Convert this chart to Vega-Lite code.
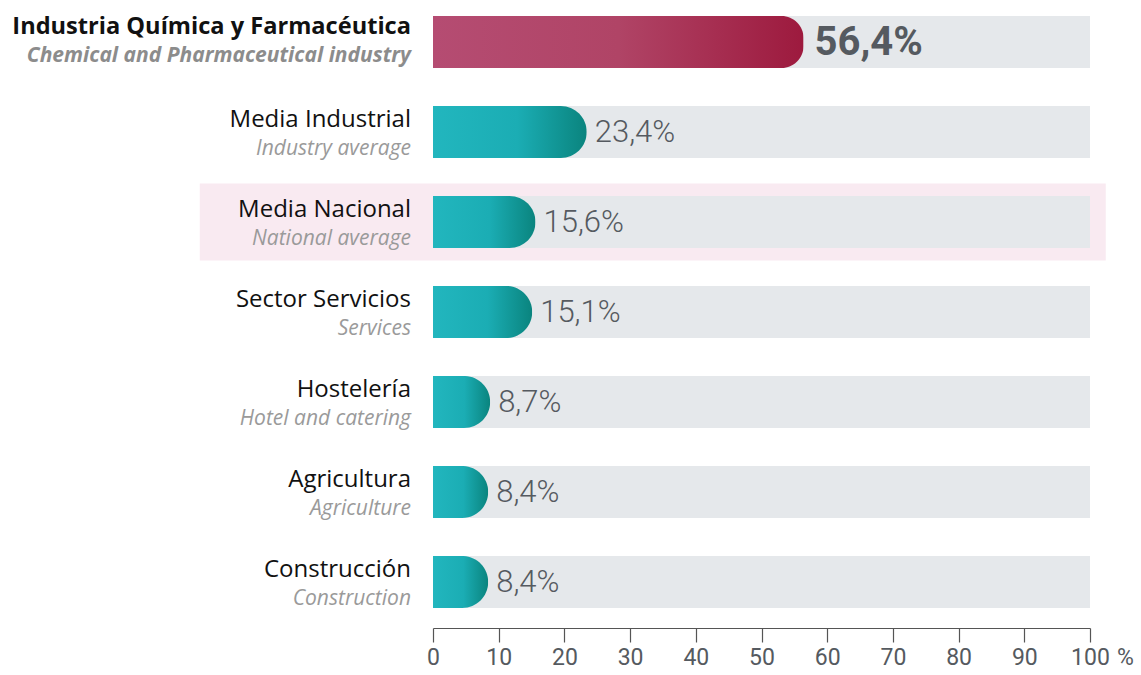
{
  "$schema": "https://vega.github.io/schema/vega-lite/v6.json",
  "width": 657,
  "height": 624,
  "autosize": "none",
  "padding": {"left": 433, "top": 0, "right": 51, "bottom": 51},
  "background": "white",
  "config": {"view": {"stroke": null}},
  "data": {"values": [
    {"es": "Industria Química y Farmacéutica", "en": "Chemical and Pharmaceutical industry", "value": 56.4, "group": "main"},
    {"es": "Media Industrial", "en": "Industry average", "value": 23.4, "group": "other"},
    {"es": "Media Nacional", "en": "National average", "value": 15.6, "group": "national"},
    {"es": "Sector Servicios", "en": "Services", "value": 15.1, "group": "other"},
    {"es": "Hostelería", "en": "Hotel and catering", "value": 8.7, "group": "other"},
    {"es": "Agricultura", "en": "Agriculture", "value": 8.4, "group": "other"},
    {"es": "Construcción", "en": "Construction", "value": 8.4, "group": "other"}
  ]},
  "transform": [
    {"calculate": "replace(format(datum.value, '.1f'), '.', ',') + '%'", "as": "label"},
    {"calculate": "-35.5", "as": "hl_start"},
    {"calculate": "102.4", "as": "hl_end"},
    {"calculate": "100", "as": "full"}
  ],
  "encoding": {
    "y": {
      "field": "es", "type": "nominal", "sort": null,
      "scale": {
        "domain": ["Industria Química y Farmacéutica", "Media Industrial", "Media Nacional", "Sector Servicios", "Hostelería", "Agricultura", "Construcción"],
        "paddingInner": 0.422, "paddingOuter": 0.178
      },
      "axis": null
    }
  },
  "layer": [
    {
      "transform": [{"filter": "datum.group === 'national'"}],
      "mark": {"type": "bar", "color": "#f9eaf1", "height": 77},
      "encoding": {
        "x": {"field": "hl_start", "type": "quantitative"},
        "x2": {"field": "hl_end"}
      }
    },
    {
      "mark": {"type": "bar", "color": "#e5e8eb"},
      "encoding": {
        "x": {
          "field": "full", "type": "quantitative",
          "scale": {"domain": [0, 100], "nice": false, "zero": true},
          "axis": {
            "values": [0, 10, 20, 30, 40, 50, 60, 70, 80, 90, 100],
            "grid": false, "domainColor": "#555", "domainWidth": 1.2,
            "tickColor": "#555", "tickWidth": 1.2, "tickSize": 14,
            "offset": 4,
            "labelFont": "Liberation Sans Narrow, Roboto", "labelFontWeight": "normal", "labelFontSize": 23,
            "labelColor": "#555a60", "labelPadding": 4,
            "labelFlush": false,
            "title": "%", "titleFont": "Liberation Sans Narrow, Roboto", "titleFontWeight": "normal",
            "titleFontSize": 23, "titleColor": "#555a60",
            "titleX": 692, "titleY": 29, "titleAlign": "center", "titleBaseline": "middle"
          }
        }
      }
    },
    {
      "transform": [{"filter": "datum.group === 'main'"}],
      "mark": {
        "type": "bar", "cornerRadiusEnd": 22,
        "fill": {"gradient": "linear", "x1": 0, "y1": 0, "x2": 1, "y2": 0,
          "stops": [{"offset": 0, "color": "#b54c72"}, {"offset": 0.5, "color": "#b04466"}, {"offset": 1, "color": "#9d1a3e"}]}
      },
      "encoding": {"x": {"field": "value", "type": "quantitative"}}
    },
    {
      "transform": [{"filter": "datum.group !== 'main'"}],
      "mark": {
        "type": "bar", "cornerRadiusEnd": 26,
        "fill": {"gradient": "linear", "x1": 0, "y1": 0, "x2": 1, "y2": 0,
          "stops": [{"offset": 0, "color": "#22b6be"}, {"offset": 0.55, "color": "#1badb4"}, {"offset": 1, "color": "#0a847e"}]}
      },
      "encoding": {"x": {"field": "value", "type": "quantitative"}}
    },
    {
      "transform": [{"filter": "datum.group === 'main'"}],
      "mark": {"type": "text", "align": "left", "baseline": "middle", "dx": 11, "dy": 1,
        "font": "Roboto", "fontWeight": "bold", "fontSize": 40, "color": "#555a60"},
      "encoding": {"x": {"field": "value", "type": "quantitative"}, "text": {"field": "label"}}
    },
    {
      "transform": [{"filter": "datum.group !== 'main'"}],
      "mark": {"type": "text", "align": "left", "baseline": "middle", "dx": 8, "dy": 1,
        "font": "Roboto", "fontWeight": 300, "fontSize": 31, "color": "#555a60"},
      "encoding": {"x": {"field": "value", "type": "quantitative"}, "text": {"field": "label"}}
    },
    {
      "transform": [{"filter": "datum.group === 'main'"}],
      "mark": {"type": "text", "align": "right", "baseline": "middle", "dx": -22, "dy": -15,
        "font": "Open Sans", "fontWeight": "bold", "fontSize": 23.6, "color": "#111111"},
      "encoding": {"x": {"datum": 0, "type": "quantitative"}, "text": {"field": "es"}}
    },
    {
      "transform": [{"filter": "datum.group === 'main'"}],
      "mark": {"type": "text", "align": "right", "baseline": "middle", "dx": -22, "dy": 14,
        "font": "Open Sans", "fontWeight": "bold", "fontStyle": "italic", "fontSize": 21, "color": "#8c8c8c"},
      "encoding": {"x": {"datum": 0, "type": "quantitative"}, "text": {"field": "en"}}
    },
    {
      "transform": [{"filter": "datum.group !== 'main'"}],
      "mark": {"type": "text", "align": "right", "baseline": "middle", "dx": -22, "dy": -12,
        "font": "Open Sans", "fontWeight": "normal", "fontSize": 24, "color": "#111111"},
      "encoding": {"x": {"datum": 0, "type": "quantitative"}, "text": {"field": "es"}}
    },
    {
      "transform": [{"filter": "datum.group !== 'main'"}],
      "mark": {"type": "text", "align": "right", "baseline": "middle", "dx": -22, "dy": 17,
        "font": "Open Sans", "fontWeight": "normal", "fontStyle": "italic", "fontSize": 21, "color": "#9a9a9a"},
      "encoding": {"x": {"datum": 0, "type": "quantitative"}, "text": {"field": "en"}}
    }
  ]
}
